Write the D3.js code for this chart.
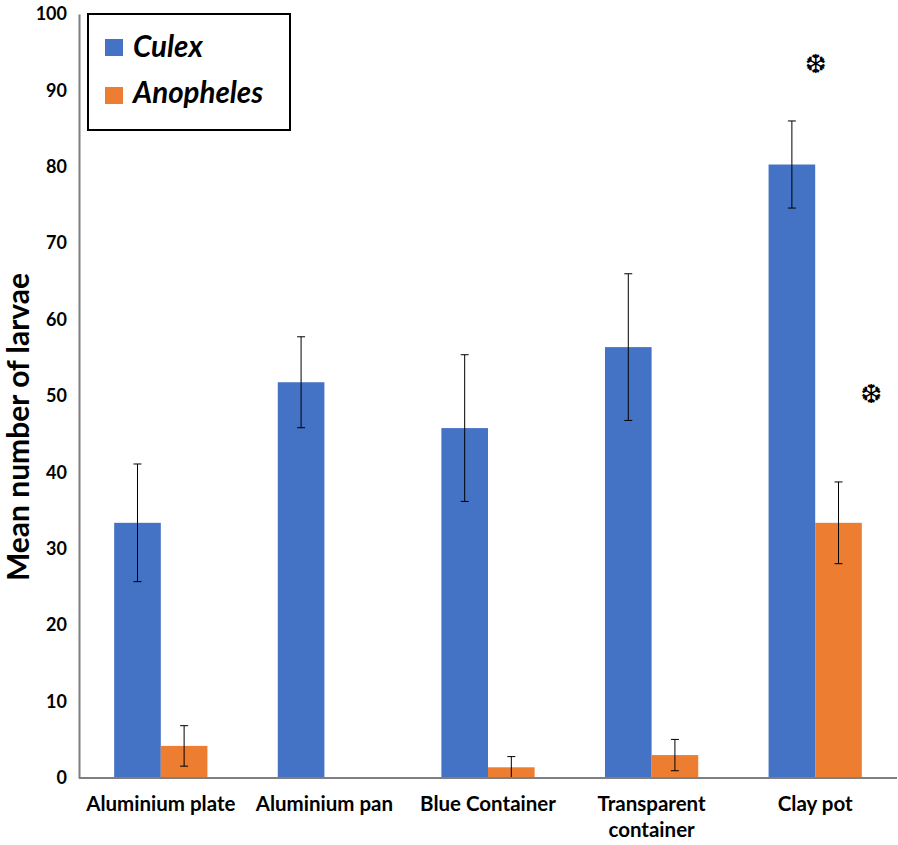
<!DOCTYPE html>
<html><head><meta charset="utf-8">
<script src="https://cdn.jsdelivr.net/npm/d3@7"></script>
<style>body{margin:0;background:#fff}</style>
</head><body>
<svg id="c" width="898" height="845"></svg>
<script>
const categories = [["Aluminium plate"],["Aluminium pan"],["Blue Container"],["Transparent","container"],["Clay pot"]];
const seriesNames = ["Culex","Anopheles"];
const culex = [33.4, 51.8, 45.8, 56.4, 80.3];
const culexErr = [7.7, 5.95, 9.6, 9.6, 5.7];
const anopheles = [4.2, 0, 1.4, 3.0, 33.4];
const anophelesErr = [2.65, 0, 1.4, 2.05, 5.35];
const yTicks = [0,10,20,30,40,50,60,70,80,90,100];
const significant = [{cat:4, series:0, y:93.5}, {cat:4, series:1, y:50.3}];
const colors = ["#4472C4","#ED7D31"];

(function(){
const svg = d3.select("#c");
const font = "Lato, 'Open Sans', sans-serif";
const mLeft = 79, mRight = 897, mTop = 14, mBottom = 778;
const y = d3.scaleLinear().domain([0,100]).range([mBottom, mTop]);
const x0 = d3.scaleBand().domain(d3.range(categories.length)).range([mLeft, mRight]).paddingInner(0.43).paddingOuter(0.215);
const x1 = d3.scaleBand().domain([0,1]).range([0, x0.bandwidth()]);

const series = [culex, anopheles];
const errs = [culexErr, anophelesErr];

series.forEach((vals, s) => {
  svg.append("g").selectAll("rect").data(vals).join("rect")
    .attr("x", (d,i) => x0(i) + x1(s))
    .attr("y", d => y(d))
    .attr("width", x1.bandwidth())
    .attr("height", d => y(0) - y(d))
    .attr("fill", colors[s]);
});

series.forEach((vals, s) => {
  const g = svg.append("g").attr("stroke", "#000").attr("stroke-width", 1);
  vals.forEach((v, i) => {
    const e = errs[s][i];
    if (e <= 0) return;
    const cx = x0(i) + x1(s) + x1.bandwidth()/2;
    const lo = Math.max(0, v - e), hi = v + e;
    g.append("line").attr("x1", cx).attr("x2", cx).attr("y1", y(hi)).attr("y2", y(lo));
    g.append("line").attr("x1", cx-4).attr("x2", cx+4).attr("y1", y(hi)).attr("y2", y(hi));
    g.append("line").attr("x1", cx-4).attr("x2", cx+4).attr("y1", y(lo)).attr("y2", y(lo));
  });
});

const yAxis = d3.axisLeft(y).tickValues(yTicks).tickSize(0).tickPadding(12);
const gy = svg.append("g").attr("transform", `translate(${mLeft},0)`).call(yAxis);
gy.select(".domain").attr("stroke", "#7f7f7f").attr("stroke-width", 2);
gy.selectAll("text").attr("font-family", font).attr("font-weight", "bold").attr("font-size", 18).attr("fill", "#000");

svg.append("line").attr("x1", mLeft).attr("x2", mRight).attr("y1", y(0)).attr("y2", y(0))
  .attr("stroke", "#7f7f7f").attr("stroke-width", 2);

categories.forEach((lines, i) => {
  const cx = x0(i) + x0.bandwidth()/2;
  const t = svg.append("text").attr("x", cx).attr("y", 811)
    .attr("text-anchor", "middle").attr("font-family", font).attr("font-weight", "bold").attr("font-size", 20.5);
  lines.forEach((l, k) => t.append("tspan").attr("x", cx).attr("dy", k ? 26 : 0).text(l));
});

svg.append("text").attr("transform", `translate(29,427) rotate(-90)`)
  .attr("text-anchor", "middle").attr("font-family", font).attr("font-weight", "bold").attr("font-size", 30)
  .text("Mean number of larvae");

significant.forEach(m => {
  svg.append("text").attr("x", x0(m.cat) + x1(m.series) + x1.bandwidth()/2 + (m.series ? 33 : 24))
    .attr("y", y(m.y)).attr("text-anchor", "middle").attr("dominant-baseline", "central")
    .attr("fill", "#000").attr("font-family", "'DejaVu Sans'").attr("font-weight", "bold").attr("font-size", 26)
    .text("\u2746\uFE0E");
});

const lg = svg.append("g");
lg.append("rect").attr("x", 88).attr("y", 14).attr("width", 202).attr("height", 116)
  .attr("fill", "#fff").attr("stroke", "#000").attr("stroke-width", 2);
seriesNames.forEach((n, s) => {
  lg.append("rect").attr("x", 105).attr("y", 39 + s*48).attr("width", 18).attr("height", 17).attr("fill", colors[s]);
  lg.append("text").attr("x", 133).attr("y", 57 + s*46).attr("font-family", font).attr("font-weight", "bold")
    .attr("font-style", "italic").attr("font-size", 29.5).text(n);
});
})();
</script>
</body></html>
